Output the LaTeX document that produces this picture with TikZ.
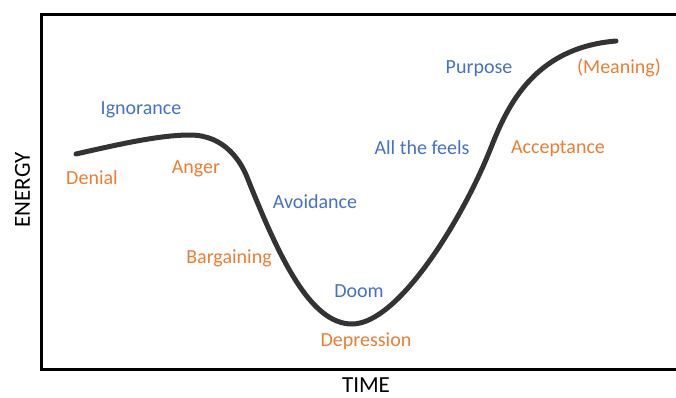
\documentclass[tikz,border=0pt]{standalone}
\usepackage{fontspec}
\setmainfont{Carlito}
\usepackage{tikz}
\definecolor{stageblue}{HTML}{4472C4}
\definecolor{stageorange}{HTML}{ED7D31}
\definecolor{curvegray}{HTML}{333333}
\tikzstyle{up} = [text=stageblue, font=\fontsize{20}{24}\selectfont, inner sep=0pt]
\tikzstyle{down} = [text=stageorange, font=\fontsize{20}{24}\selectfont, inner sep=0pt]
\tikzstyle{axis} = [font=\fontsize{23}{27}\selectfont, inner sep=0pt]

\begin{document}
\begin{tikzpicture}[x=1pt,y=-1pt]
\useasboundingbox (0,0) rectangle (676,397);
% frame, open on the right
\draw[line width=3pt] (676,14) -- (41,14) -- (41,369) -- (676,369);
% energy over time
\draw[curvegray, line width=5pt, line cap=round] (76,154)
  .. controls (120,144) and (160,135) .. (190,135)
  .. controls (225,135) and (241,162) .. (247,177)
  .. controls (279,257) and (310,324) .. (352,324)
  .. controls (398,324) and (462,220) .. (490,150)
  .. controls (505,112.5) and (530,48) .. (616,41);
\node[axis, rotate=90] (energy) at (22.5,190) {ENERGY};
\node[axis] (time) at (366,385) {TIME};
\node[up] (ignorance) at (141,110) {Ignorance};
\node[down] (denial) at (92,178) {Denial};
\node[down] (anger) at (196,169) {Anger};
\node[up] (avoidance) at (315,202) {Avoidance};
\node[down] (bargaining) at (229,258) {Bargaining};
\node[up] (doom) at (359,291) {Doom};
\node[down] (depression) at (366,341) {Depression};
\node[up] (feels) at (422,148) {All the feels};
\node[up] (purpose) at (479,69) {Purpose};
\node[down] (acceptance) at (558,149) {Acceptance};
\node[down] (meaning) at (619,68) {(Meaning)};
\end{tikzpicture}
\end{document}
